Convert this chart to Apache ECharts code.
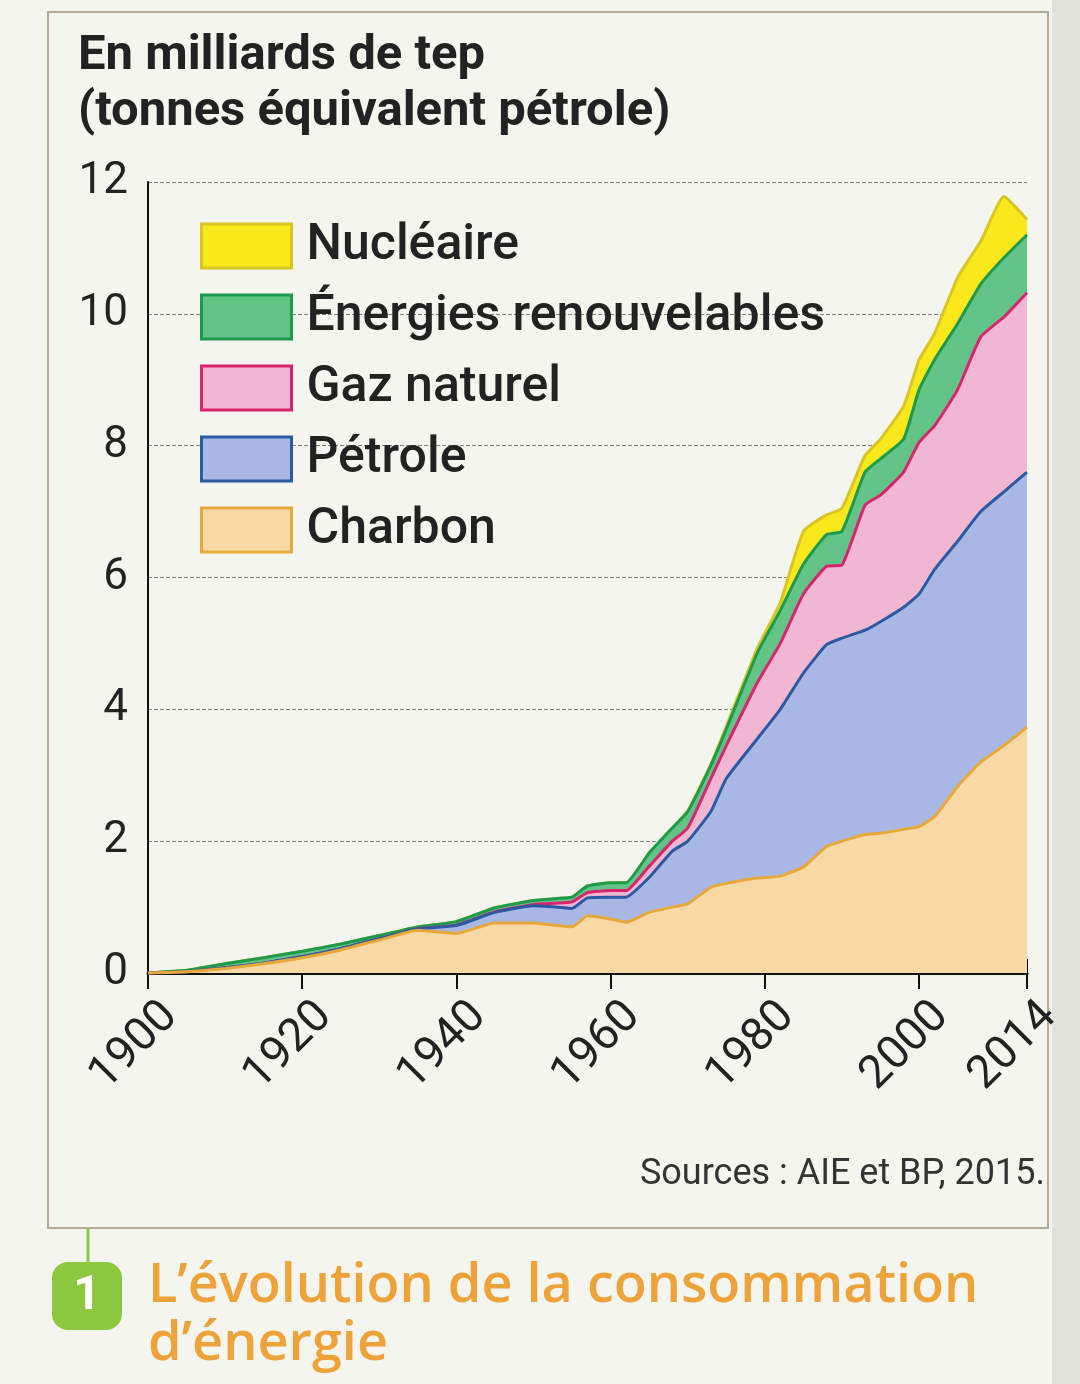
<!DOCTYPE html>
<html>
<head>
<meta charset="utf-8">
<script src="https://cdn.jsdelivr.net/npm/echarts@6/dist/echarts.min.js"></script>
<style>
  html, body { margin: 0; padding: 0; background: #f4f5ef; }
  #container { width: 1080px; height: 1384px; }
</style>
</head>
<body>
<div id="container"></div>
<script>
// years sampled along the curves
var years = [1900,1905,1910,1915,1920,1925,1930,1935,1940,1945,1950,1953,1955,1957,1960,1962,1965,1968,1970,1973,1975,1979,1982,1985,1988,1990,1993,1995,1998,2000,2002,2005,2008,2011,2014];

// milliards de tep, per source (stacked bottom -> top)
var charbon   = [0,0.02,0.07,0.14,0.23,0.35,0.50,0.65,0.60,0.76,0.76,0.72,0.70,0.87,0.82,0.77,0.92,1.00,1.05,1.30,1.36,1.44,1.47,1.61,1.92,2.00,2.10,2.12,2.18,2.22,2.37,2.83,3.20,3.45,3.73];
var petrole   = [0,0,0.01,0.01,0.02,0.02,0.02,0.02,0.12,0.16,0.26,0.28,0.28,0.27,0.33,0.38,0.53,0.85,0.95,1.15,1.59,2.11,2.53,2.94,3.06,3.08,3.10,3.21,3.37,3.53,3.75,3.72,3.80,3.85,3.87];
var gaz       = [0,0,0,0,0,0,0,0,0.01,0.01,0.02,0.06,0.10,0.08,0.10,0.10,0.17,0.15,0.20,0.50,0.50,0.85,1.00,1.20,1.19,1.11,1.90,1.92,2.05,2.30,2.18,2.30,2.65,2.65,2.72];
var renouv    = [0,0.02,0.06,0.08,0.08,0.07,0.05,0.03,0.05,0.06,0.06,0.07,0.07,0.10,0.12,0.12,0.20,0.20,0.25,0.20,0.25,0.45,0.50,0.45,0.48,0.51,0.50,0.55,0.50,0.80,1.00,1.00,0.80,0.90,0.88];
var nucleaire = [0,0,0,0,0,0,0,0,0,0,0,0,0,0,0,0,0,0,0.01,0.02,0.04,0.07,0.12,0.50,0.30,0.35,0.25,0.30,0.50,0.45,0.40,0.70,0.65,0.93,0.23];

var xTicks = [1900,1920,1940,1960,1980,2000,2014];
var lastYear = 2014;

var names = ['Charbon','Pétrole','Gaz naturel','Énergies renouvelables','Nucléaire'];
var values = [charbon, petrole, gaz, renouv, nucleaire];
var fills = ['#f7d9a6','#a9b7e4','#f1b6d2','#63c487','#f8e81c'];
var lines = ['#e7a83a','#2b5aa3','#d7266f','#1d9a4c','#d9c521'];

var font = 'Roboto, "DejaVu Sans", sans-serif';

var myChart = echarts.init(document.getElementById('container'));

// running totals, so each area is drawn from 0 up to its cumulative top
var running = years.map(function () { return 0; });
var series = [];
for (var k = 0; k < names.length; k++) {
    var src = values[k];
    running = running.map(function (v, i) { return +(v + src[i]).toFixed(3); });
    var upper = running.slice();
    series.push({
        name: names[k],
        type: 'line',
        symbol: 'none',
        smooth: 0.15,
        z: 10 - k,
        data: years.map(function (y, i) { return [y, upper[i]]; }),
        lineStyle: { color: lines[k], width: 3 },
        itemStyle: { color: lines[k] },
        areaStyle: { color: fills[k], opacity: 1 }
    });
}

var legendData = [];
for (var j = names.length - 1; j >= 0; j--) {
    legendData.push({
        name: names[j],
        itemStyle: { color: fills[j], borderColor: lines[j], borderWidth: 3 }
    });
}

// same look for both label sets; the empty first line pushes each year down-right of its tick
function yearLabel(list) {
    return {
        customValues: list,
        rotate: 45,
        margin: 14,
        lineHeight: 64,
        hideOverlap: false,
        showMinLabel: true,
        showMaxLabel: true,
        fontFamily: font,
        fontSize: 46,
        color: '#222',
        formatter: function (v) { return '\n' + v; }
    };
}

var option = {
    backgroundColor: '#f4f5ef',
    animation: false,
    title: {
        text: 'En milliards de tep\n(tonnes équivalent pétrole)',
        left: 73,
        top: 24,
        textStyle: { fontFamily: font, fontSize: 49, fontWeight: 'bold', color: '#222', lineHeight: 56 }
    },
    legend: {
        orient: 'vertical',
        left: 200,
        top: 221,
        padding: 0,
        icon: 'rect',
        itemWidth: 90,
        itemHeight: 44,
        itemGap: 21,
        textStyle: { fontFamily: font, fontSize: 50, lineHeight: 50, fontWeight: 500, color: '#222', padding: [0, 0, 0, 10] },
        data: legendData
    },
    grid: { left: 148, right: 53, top: 182, bottom: 411 },
    xAxis: [
        {
            type: 'value',
            min: 1900,
            max: 2014,
            axisLine: { lineStyle: { color: '#111', width: 3 } },
            axisTick: { customValues: xTicks, length: 16, lineStyle: { color: '#111', width: 2 } },
            axisLabel: yearLabel(xTicks.filter(function (y) { return y !== lastYear; })),
            splitLine: { show: false }
        },
        {
            type: 'value',
            min: 1900,
            max: 2014,
            position: 'bottom',
            axisLine: { show: false },
            axisTick: { customValues: xTicks, inside: true, length: 14, lineStyle: { color: '#111', width: 2 } },
            axisLabel: yearLabel([lastYear]),
            splitLine: { show: false }
        }
    ],
    yAxis: {
        type: 'value',
        min: 0,
        max: 12,
        interval: 2,
        axisLine: { show: true, lineStyle: { color: '#111', width: 2 } },
        axisTick: { show: false },
        axisLabel: { fontFamily: font, fontSize: 44, color: '#222', margin: 20 },
        splitLine: { lineStyle: { color: '#7e7e7a', type: 'dashed', width: 1 } }
    },
    graphic: [
        {
            type: 'rect',
            shape: { x: 48, y: 12, width: 1000, height: 1216 },
            style: { fill: null, stroke: '#b5ab96', lineWidth: 2 },
            silent: true
        },
        {
            type: 'rect',
            shape: { x: 1052, y: 0, width: 28, height: 1384 },
            style: { fill: '#e2e2dc' },
            silent: true
        },
        {
            type: 'text',
            x: 1045,
            y: 1175,
            style: { text: 'Sources : AIE et BP, 2015.', fontFamily: font, fontSize: 36, fill: '#333', align: 'right', verticalAlign: 'middle' }
        },
        {
            type: 'line',
            shape: { x1: 88, y1: 1228, x2: 88, y2: 1264 },
            style: { stroke: '#8dc63f', lineWidth: 3 }
        },
        {
            type: 'rect',
            shape: { x: 52, y: 1262, width: 70, height: 68, r: 16 },
            style: { fill: '#8dc63f' }
        },
        {
            type: 'text',
            x: 87,
            y: 1297,
            style: { text: '1', fontFamily: font, fontSize: 48, fontWeight: 'bold', fill: '#fff', align: 'center', verticalAlign: 'middle' }
        },
        {
            type: 'text',
            x: 148,
            y: 1258,
            style: {
                text: 'L’évolution de la consommation\nd’énergie',
                fontFamily: '"Open Sans", sans-serif',
                fontSize: 54,
                fontWeight: 600,
                lineHeight: 58,
                fill: '#eea23a'
            }
        }
    ],
    series: series
};
myChart.setOption(option);
</script>
</body>
</html>
